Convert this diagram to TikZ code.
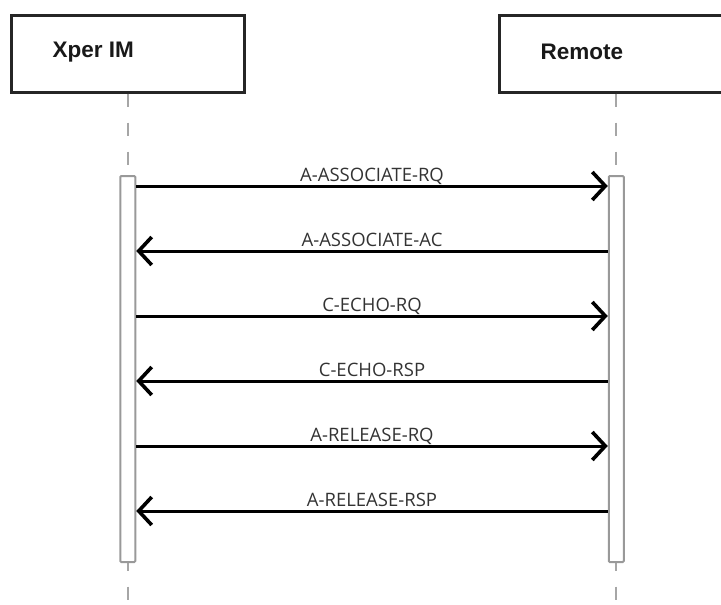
\documentclass[tikz,border=0pt]{standalone}
\usepackage{fontspec}
\setmainfont{Liberation Sans}
\newfontfamily\msgfont{Open Sans}
\usetikzlibrary{arrows.meta}

\tikzset{
  actor/.style={draw=black!85, line width=2.5pt, minimum width=233pt, minimum height=77pt, anchor=north west},
  actorname/.style={font=\bfseries\fontsize{22.5}{26}\selectfont, text=black!90, anchor=west},
  life/.style={gray!70, line width=2pt, dash pattern=on 13pt off 16pt},
  actbar/.style={draw=gray!80, line width=2pt, fill=white, rounded corners=1pt, minimum width=15pt, minimum height=386pt, anchor=north, inner sep=0pt},
  msg/.style={line width=3pt, -{Straight Barb[length=13pt, width=28pt, line width=3.6pt]}},
  msglabel/.style={font=\msgfont\fontsize{18.5}{21}\selectfont, text=black!80, above=3.5pt, inner sep=0pt, text depth=0pt}
}

\begin{document}
\begin{tikzpicture}[x=1pt, y=-1pt]
    \clip (0,0) rectangle (721,605);

    % participants
    \node[actor] (xper) at (10,14) {};
    \node[actor, minimum width=234pt] (remote) at (498,14) {};
    \node[actorname] (xpername) at (49,52) {Xper IM};
    \node[actorname] (remotename) at (537,52) {Remote};

    % lifelines
    \draw[life] (xper.south) -- (xper.south |- 0,605);
    \draw[life] (remote.south) -- (remote.south |- 0,605);

    % activations
    \node[actbar] (xperbar) at (xper.south |- 0,175) {};
    \node[actbar] (remotebar) at (remote.south |- 0,175) {};

    % requests
    \foreach \y/\txt in {186/A-ASSOCIATE-RQ, 316/C-ECHO-RQ, 446/A-RELEASE-RQ}
        \draw[msg] (xperbar.east |- 0,\y) -- node[msglabel] {\txt} (remotebar.west |- 0,\y);

    % responses
    \foreach \y/\txt in {251/A-ASSOCIATE-AC, 381/C-ECHO-RSP, 511/A-RELEASE-RSP}
        \draw[msg] (remotebar.west |- 0,\y) -- node[msglabel] {\txt} (xperbar.east |- 0,\y);

\end{tikzpicture}
\end{document}
